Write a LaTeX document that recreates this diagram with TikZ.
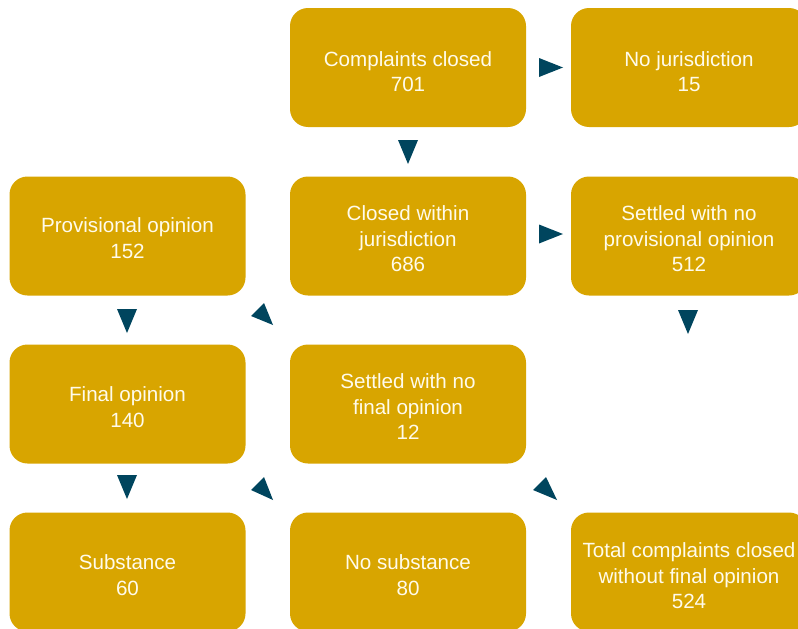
\documentclass[tikz,border=0pt]{standalone}
\usepackage{fontspec}
\setmainfont{Liberation Sans}
\definecolor{gold}{RGB}{216,165,0}
\definecolor{teal}{RGB}{0,69,94}
\definecolor{txtw}{RGB}{255,251,235}
\begin{document}
\begin{tikzpicture}[x=1pt,y=-1pt,
  box/.style={fill=gold,rounded corners=18pt,minimum width=236pt,minimum height=119pt,inner sep=0pt},
  txt/.style={text=txtw,align=center,inner sep=0pt,font=\fontsize{20.6}{25.5}\selectfont},
  tri/.style={fill=teal,draw=none}]
\useasboundingbox (0,0) rectangle (798,629);
\clip (0,0) rectangle (798,629);
% boxes
\node[box] (closed) at (408,67.5) {};
\node[box] (nojur) at (689,67.5) {};
\node[box] (prov) at (127.5,236) {};
\node[box] (within) at (408,236) {};
\node[box] (settprov) at (689,236) {};
\node[box] (final) at (127.5,404) {};
\node[box] (settfinal) at (408,404) {};
\node[box] (subst) at (127.5,572) {};
\node[box] (nosubst) at (408,572) {};
\node[box] (total) at (689,572) {};
% texts
\node[txt] (closedT) at ([yshift=-4pt]closed.center) {Complaints closed\\701};
\node[txt] (nojurT) at ([yshift=-4pt]nojur.center) {No jurisdiction\\15};
\node[txt] (provT) at ([yshift=-2pt]prov.center) {Provisional opinion\\152};
\node[txt] (withinT) at ([yshift=-3pt]within.center) {Closed within\\jurisdiction\\686};
\node[txt] (settprovT) at ([yshift=-3pt]settprov.center) {Settled with no\\provisional opinion\\512};
\node[txt] (finalT) at ([yshift=-3pt]final.center) {Final opinion\\140};
\node[txt] (settfinalT) at ([yshift=-3pt]settfinal.center) {Settled with no\\final opinion\\12};
\node[txt] (substT) at ([yshift=-3pt]subst.center) {Substance\\60};
\node[txt] (nosubstT) at ([yshift=-3pt]nosubst.center) {No substance\\80};
\node[txt] (totalT) at ([yshift=-4pt]total.center) {Total complaints closed\\without final opinion\\524};
% arrowheads
\fill[tri] (539,58) -- (539,77) -- (563,67.5) -- cycle;
\fill[tri] (398,140) -- (418,140) -- (408,164) -- cycle;
\fill[tri] (539,224.5) -- (539,243.5) -- (563,234) -- cycle;
\fill[tri] (678,310) -- (698,310) -- (688,334) -- cycle;
\fill[tri] (117,309) -- (137,309) -- (127,333) -- cycle;
\fill[tri] (117,475) -- (137,475) -- (127,499) -- cycle;
\fill[tri] (251,316) -- (264,303) -- (273,325) -- cycle;
\fill[tri] (251,490) -- (264,477) -- (273,500) -- cycle;
\fill[tri] (533,490) -- (546,477) -- (557,500) -- cycle;
\end{tikzpicture}
\end{document}
